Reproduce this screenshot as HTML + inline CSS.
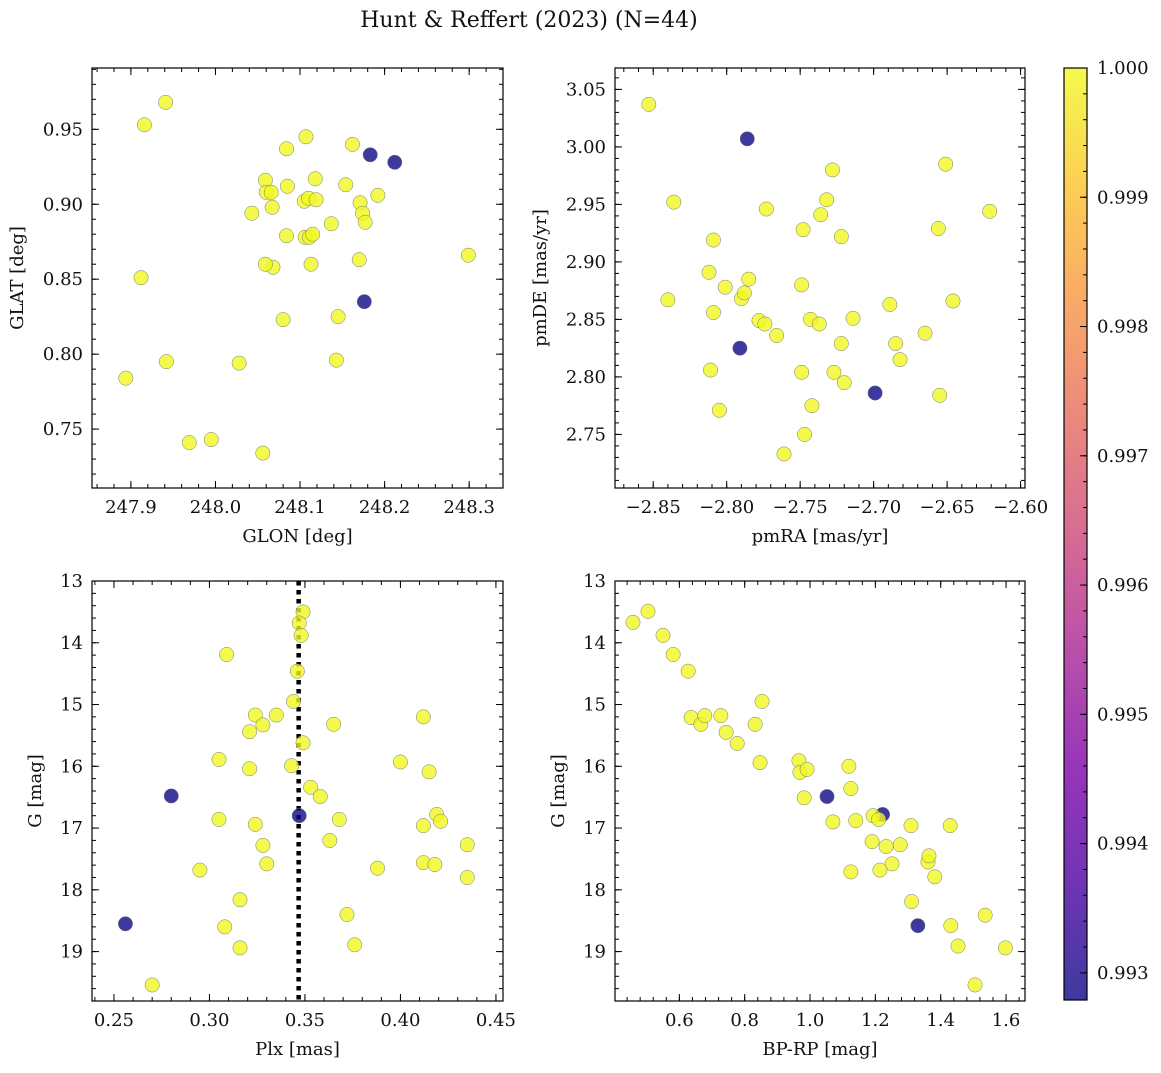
<!DOCTYPE html>
<html><head><meta charset="utf-8"><style>
body{margin:0;background:#fff;}
svg text{font-family:"DejaVu Serif","Liberation Serif",serif;fill:#111;}
</style></head><body>
<svg id="fig" width="1161" height="1068" viewBox="0 0 1161 1068" xmlns="http://www.w3.org/2000/svg">
<defs>
<linearGradient id="plasma" x1="0" y1="1" x2="0" y2="0">
<stop offset="0" stop-color="#0d0887"/><stop offset="0.125" stop-color="#4c02a1"/><stop offset="0.25" stop-color="#7e03a8"/><stop offset="0.375" stop-color="#a92395"/><stop offset="0.5" stop-color="#cc4778"/><stop offset="0.625" stop-color="#e56b5d"/><stop offset="0.75" stop-color="#f89441"/><stop offset="0.875" stop-color="#fdc328"/><stop offset="1" stop-color="#f0f921"/>
</linearGradient>
</defs>
<text x="529" y="27" font-size="22" text-anchor="middle">Hunt &amp; Reffert (2023) (N=44)</text>
</svg>
<script>
// ---- data ----
const glon = [247.941,247.916,247.912,247.894,247.942,247.969,247.995,248.028,248.056,248.043,248.059,248.060,248.066,248.067,248.068,248.059,248.084,248.085,248.084,248.080,248.107,248.105,248.110,248.106,248.111,248.115,248.119,248.118,248.113,248.137,248.154,248.162,248.171,248.174,248.177,248.170,248.145,248.143,248.192,248.299,248.183,248.212,248.176];
const glat = [0.968,0.953,0.851,0.784,0.795,0.741,0.743,0.794,0.734,0.894,0.916,0.908,0.908,0.898,0.858,0.860,0.937,0.912,0.879,0.823,0.945,0.902,0.904,0.878,0.878,0.880,0.903,0.917,0.860,0.887,0.913,0.940,0.901,0.894,0.888,0.863,0.825,0.796,0.906,0.866,0.933,0.928,0.835];
const prob1 = [1,1,1,1,1,1,1,1,1,1,1,1,1,1,1,1,1,1,1,1,1,1,1,1,1,1,1,1,1,1,1,1,1,1,1,1,1,1,1,1,0.9928,0.9928,0.9928];

const pmra = [-2.853,-2.836,-2.840,-2.812,-2.809,-2.801,-2.809,-2.811,-2.805,-2.790,-2.788,-2.785,-2.773,-2.766,-2.778,-2.774,-2.761,-2.749,-2.748,-2.749,-2.747,-2.743,-2.742,-2.737,-2.736,-2.732,-2.728,-2.722,-2.722,-2.727,-2.720,-2.714,-2.689,-2.685,-2.682,-2.665,-2.656,-2.655,-2.651,-2.646,-2.621,-2.786,-2.791,-2.699];
const pmde = [3.037,2.952,2.867,2.891,2.919,2.878,2.856,2.806,2.771,2.868,2.873,2.885,2.946,2.836,2.849,2.846,2.733,2.880,2.928,2.804,2.750,2.850,2.775,2.846,2.941,2.954,2.980,2.922,2.829,2.804,2.795,2.851,2.863,2.829,2.815,2.838,2.929,2.784,2.985,2.866,2.944,3.007,2.825,2.786];
const prob2 = [1,1,1,1,1,1,1,1,1,1,1,1,1,1,1,1,1,1,1,1,1,1,1,1,1,1,1,1,1,1,1,1,1,1,1,1,1,1,1,1,1,0.9928,0.9928,0.9928];

const plx = [0.349,0.347,0.348,0.309,0.346,0.344,0.335,0.324,0.328,0.321,0.365,0.412,0.349,0.305,0.321,0.343,0.400,0.415,0.353,0.358,0.419,0.421,0.305,0.324,0.368,0.412,0.363,0.328,0.435,0.330,0.412,0.418,0.295,0.388,0.435,0.316,0.372,0.308,0.316,0.376,0.270,0.280,0.256,0.347];
const gmag3 = [13.50,13.68,13.88,14.19,14.46,14.95,15.17,15.17,15.33,15.44,15.32,15.20,15.62,15.89,16.04,15.99,15.93,16.09,16.34,16.49,16.78,16.89,16.86,16.94,16.86,16.96,17.20,17.28,17.27,17.58,17.56,17.59,17.68,17.65,17.80,18.16,18.40,18.60,18.94,18.89,19.54,16.48,18.55,16.80];
const prob3 = [1,1,1,1,1,1,1,1,1,1,1,1,1,1,1,1,1,1,1,1,1,1,1,1,1,1,1,1,1,1,1,1,1,1,1,1,1,1,1,1,1,0.9928,0.9928,0.9928];
const plxMedian = 0.3467;

const bprp = [0.458,0.504,0.550,0.581,0.627,0.636,0.666,0.678,0.727,0.743,0.777,0.832,0.853,0.847,0.966,0.969,0.991,0.982,1.125,1.119,1.070,1.140,1.193,1.210,1.190,1.233,1.276,1.309,1.429,1.251,1.214,1.125,1.361,1.364,1.382,1.311,1.431,1.453,1.536,1.598,1.505,1.052,1.330,1.222];
const gmag4 = [13.67,13.49,13.88,14.19,14.46,15.21,15.32,15.18,15.18,15.45,15.63,15.32,14.95,15.94,15.91,16.10,16.05,16.51,16.36,16.00,16.90,16.88,16.80,16.86,17.22,17.30,17.27,16.96,16.96,17.58,17.68,17.71,17.55,17.45,17.79,18.19,18.58,18.91,18.41,18.94,19.54,16.49,18.58,16.78];
const prob4 = [1,1,1,1,1,1,1,1,1,1,1,1,1,1,1,1,1,1,1,1,1,1,1,1,1,1,1,1,1,1,1,1,1,1,1,1,1,1,1,1,1,0.9928,0.9928,0.9928];

const cbTicks = [1.000,0.999,0.998,0.997,0.996,0.995,0.994,0.993];
const cbMin = 0.99279, cbMax = 1.0;

// ---- helpers ----
const NS = "http://www.w3.org/2000/svg";
const svg = document.getElementById('fig');
function mk(tag, attrs, parent){const e=document.createElementNS(NS,tag);for(const k in attrs)e.setAttribute(k,attrs[k]);(parent||svg).appendChild(e);return e;}
const plasmaStops=[[13,8,135],[76,2,161],[126,3,168],[169,35,149],[204,71,120],[229,107,93],[248,148,65],[253,195,40],[240,249,33]];
function plasma(t){t=Math.max(0,Math.min(1,t));const s=t*8,i=Math.min(7,Math.floor(s)),f=s-i;const a=plasmaStops[i],b=plasmaStops[i+1];return 'rgb('+a.map((v,k)=>Math.round(v+(b[k]-v)*f)).join(',')+')';}
function fmt(v,d){const s=Math.abs(v).toFixed(d);return (v<-1e-9?'\u2212':'')+s;}

function panel(o){
  const g=mk('g',{});
  
  
  const X=v=>o.x0+(v-o.xmin)/(o.xmax-o.xmin)*(o.x1-o.x0);
  const Y=o.invert? (v=>o.y0+(v-o.ymin)/(o.ymax-o.ymin)*(o.y1-o.y0)) : (v=>o.y1-(v-o.ymin)/(o.ymax-o.ymin)*(o.y1-o.y0));
  const tg=mk('g',{stroke:'#000','stroke-width':1},g);
  function ticksX(step,len,label,dec){
    const start=Math.ceil((o.xmin-1e-9)/step)*step;
    for(let v=start;v<=o.xmax+1e-9;v+=step){const px=X(v);
      mk('line',{x1:px,x2:px,y1:o.y1,y2:o.y1-len},tg);
      mk('line',{x1:px,x2:px,y1:o.y0,y2:o.y0+len},tg);
      if(label){const t=mk('text',{x:px,y:o.y1+25,'font-size':18,'text-anchor':'middle'},g);t.textContent=fmt(v,dec);
        
        }
    }
  }
  function ticksY(step,len,label,dec){
    const start=Math.ceil((o.ymin-1e-9)/step)*step;
    for(let v=start;v<=o.ymax+1e-9;v+=step){const py=Y(v);
      mk('line',{x1:o.x0,x2:o.x0+len,y1:py,y2:py},tg);
      mk('line',{x1:o.x1,x2:o.x1-len,y1:py,y2:py},tg);
      if(label){const t=mk('text',{x:o.x0-9,y:py+6,'font-size':18,'text-anchor':'end'},g);t.textContent=fmt(v,dec);
        
        }
    }
  }
  ticksX(o.xminor,4,false);ticksX(o.xmajor,7,true,o.xdec);
  ticksY(o.yminor,4,false);ticksY(o.ymajor,7,true,o.ydec);
  const clip='c'+o.name;
  const cp=mk('clipPath',{id:clip},g);mk('rect',{x:o.x0,y:o.y0,width:o.x1-o.x0,height:o.y1-o.y0},cp);
  const pg=mk('g',{'clip-path':'url(#'+clip+')'},g);
  if(o.vline!==undefined){const l=mk('line',{x1:X(o.vline),x2:X(o.vline),y1:o.y0,y2:o.y1,stroke:'#000','stroke-width':4.5,'stroke-dasharray':'4.5,4.5'},pg);
    
    }
  const order=o.xs.map((_,i)=>i).sort((a,b)=>o.c[a]-o.c[b]);
  order.forEach(i=>{
    const c=mk('circle',{cx:X(o.xs[i]),cy:Y(o.ys[i]),r:7.2,fill:plasma((o.c[i]-cbMin)/(cbMax-cbMin)),'fill-opacity':0.8,stroke:'#777','stroke-width':0.5},pg);
    
    
  });
  mk('rect',{x:o.x0,y:o.y0,width:o.x1-o.x0,height:o.y1-o.y0,fill:'none',stroke:'#000','stroke-width':1.2},g);
  const xl=mk('text',{x:(o.x0+o.x1)/2,y:o.y1+54,'font-size':18,'text-anchor':'middle'},g);xl.textContent=o.xlabel;
  
  
  const yx=o.ylx, yy=(o.y0+o.y1)/2;
  const yl=mk('text',{x:yx,y:yy,'font-size':18,'text-anchor':'middle',transform:'rotate(-90 '+yx+' '+yy+')'},g);yl.textContent=o.ylabel;
  
  
}

panel({name:'glon-glat-panel',x0:92,x1:503,y0:68,y1:488,xmin:247.854,xmax:248.340,ymin:0.7107,ymax:0.9909,xmajor:0.1,xminor:0.02,ymajor:0.05,yminor:0.01,xdec:1,ydec:2,xs:glon,ys:glat,c:prob1,xlabel:'GLON [deg]',ylabel:'GLAT [deg]',ylx:23});
panel({name:'proper-motion-panel',x0:615,x1:1025,y0:68,y1:488,xmin:-2.876,xmax:-2.597,ymin:2.7034,ymax:3.0686,xmajor:0.05,xminor:0.01,ymajor:0.05,yminor:0.01,xdec:2,ydec:2,xs:pmra,ys:pmde,c:prob2,xlabel:'pmRA [mas/yr]',ylabel:'pmDE [mas/yr]',ylx:546});
panel({name:'plx-g-panel',x0:92,x1:503,y0:581,y1:1001,xmin:0.2385,xmax:0.4537,ymin:13.0,ymax:19.80,invert:true,xmajor:0.05,xminor:0.01,ymajor:1,yminor:0.2,xdec:2,ydec:0,xs:plx,ys:gmag3,c:prob3,xlabel:'Plx [mas]',ylabel:'G [mag]',ylx:41,vline:plxMedian});
panel({name:'cmd-panel',x0:615,x1:1025,y0:581,y1:1001,xmin:0.403,xmax:1.658,ymin:13.0,ymax:19.80,invert:true,xmajor:0.2,xminor:0.04,ymajor:1,yminor:0.2,xdec:1,ydec:0,xs:bprp,ys:gmag4,c:prob4,xlabel:'BP-RP [mag]',ylabel:'G [mag]',ylx:564});

// colorbar
const cb=mk('g',{});


const cbx0=1064,cbx1=1087,cby0=68,cby1=1000;
mk('rect',{x:cbx0,y:cby0,width:cbx1-cbx0,height:cby1-cby0,fill:'url(#plasma)','fill-opacity':0.8},cb);
mk('rect',{x:cbx0,y:cby0,width:cbx1-cbx0,height:cby1-cby0,fill:'none',stroke:'#000','stroke-width':1.2},cb);
const CY=v=>cby1-(v-cbMin)/(cbMax-cbMin)*(cby1-cby0);
for(let v=0.9930;v<=1.00001;v+=0.0002){mk('line',{x1:cbx1,x2:cbx1-4,y1:CY(v),y2:CY(v),stroke:'#000','stroke-width':1},cb);}
cbTicks.forEach(v=>{const y=CY(v);mk('line',{x1:cbx1,x2:cbx1-7,y1:y,y2:y,stroke:'#000','stroke-width':1},cb);
  const t=mk('text',{x:1097,y:y+6,'font-size':18},cb);t.textContent=v.toFixed(3);
  
  });
</script>
</body></html>
